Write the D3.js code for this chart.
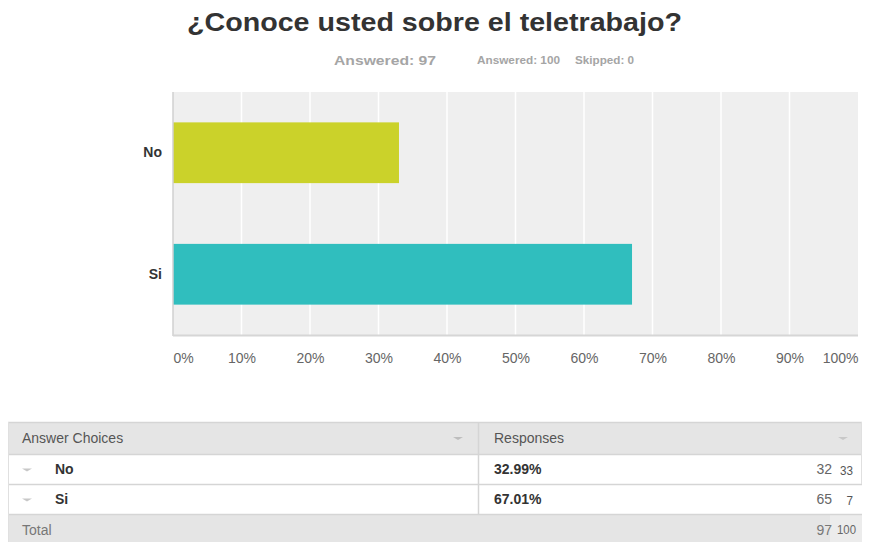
<!DOCTYPE html>
<html>
<head>
<meta charset="utf-8">
<script src="https://cdnjs.cloudflare.com/ajax/libs/d3/7.8.5/d3.min.js"></script>
<style>
  html, body { margin: 0; padding: 0; background: #fff; }
  svg { display: block; font-family: "Liberation Sans", Arial, Helvetica, sans-serif; }
</style>
</head>
<body>
<svg id="chart" width="869" height="542"></svg>
<script>
// ---- data ----
const title = "¿Conoce usted sobre el teletrabajo?";
const answeredMain = "Answered: 97";
const answeredSide = "Answered: 100";
const skippedSide = "Skipped: 0";
const categories = ["No", "Si"];
const percents = [32.99, 67.01];
const counts = [32, 65];
const sideCounts = ["33", "7"];
const totalCount = 97;
const sideTotal = "100";
const tickValues = [0, 10, 20, 30, 40, 50, 60, 70, 80, 90, 100];
const barColors = ["#cbd22a", "#30bebe"];

const svg = d3.select("#chart");

// ---- title ----
svg.append("text")
  .attr("x", 434.5).attr("y", 31)
  .attr("text-anchor", "middle")
  .attr("font-size", 25).attr("font-weight", "bold")
  .attr("fill", "#333")
  .attr("textLength", 495).attr("lengthAdjust", "spacingAndGlyphs")
  .text(title);

svg.append("text")
  .attr("x", 334).attr("y", 65)
  .attr("font-size", 13).attr("font-weight", "bold")
  .attr("fill", "#a5a5a5")
  .attr("textLength", 102).attr("lengthAdjust", "spacingAndGlyphs")
  .text(answeredMain);
svg.append("text")
  .attr("x", 477).attr("y", 64)
  .attr("font-size", 11).attr("font-weight", "bold")
  .attr("fill", "#a5a5a5")
  .attr("textLength", 83).attr("lengthAdjust", "spacingAndGlyphs")
  .text(answeredSide);
svg.append("text")
  .attr("x", 575).attr("y", 64)
  .attr("font-size", 11).attr("font-weight", "bold")
  .attr("fill", "#a5a5a5")
  .attr("textLength", 59).attr("lengthAdjust", "spacingAndGlyphs")
  .text(skippedSide);

// ---- chart ----
const plot = { left: 173, right: 858, top: 92, bottom: 335 };
const x = d3.scaleLinear().domain([0, 100]).range([plot.left, plot.right]);
const y = d3.scaleBand().domain(categories).range([plot.top, plot.bottom])
  .paddingInner(0.5).paddingOuter(0.25);

svg.append("rect")
  .attr("x", plot.left).attr("y", plot.top)
  .attr("width", plot.right - plot.left).attr("height", plot.bottom - plot.top)
  .attr("fill", "#efefef");

svg.append("g").selectAll("line")
  .data(tickValues.filter(d => d > 0 && d < 100))
  .join("line")
  .attr("x1", d => x(d)).attr("x2", d => x(d))
  .attr("y1", plot.top).attr("y2", plot.bottom)
  .attr("stroke", "#ffffff").attr("stroke-width", 1.5);

svg.append("g").selectAll("rect")
  .data(categories)
  .join("rect")
  .attr("x", x(0))
  .attr("y", d => y(d))
  .attr("width", (d, i) => x(percents[i]) - x(0))
  .attr("height", y.bandwidth())
  .attr("fill", (d, i) => barColors[i]);

// axis lines
svg.append("line")
  .attr("x1", plot.left).attr("x2", plot.left)
  .attr("y1", plot.top).attr("y2", plot.bottom + 1)
  .attr("stroke", "#d0d0d0").attr("stroke-width", 1.5);
svg.append("line")
  .attr("x1", plot.left).attr("x2", plot.right)
  .attr("y1", plot.bottom + 0.5).attr("y2", plot.bottom + 0.5)
  .attr("stroke", "#d6d6d6").attr("stroke-width", 2);

// x axis tick labels
const xAxis = d3.axisBottom(x).tickValues(tickValues).tickFormat(d => d + "%").tickSize(0).tickPadding(0);
const gx = svg.append("g").attr("transform", `translate(0,${plot.bottom + 18})`).call(xAxis);
gx.select(".domain").remove();
gx.selectAll("text")
  .attr("font-size", 14).attr("fill", "#666")
  .attr("font-family", "'Liberation Sans', Arial, sans-serif")
  .attr("text-anchor", d => d === 0 ? "start" : (d === 100 ? "end" : "middle"));

// y axis labels
const yAxis = d3.axisLeft(y).tickSize(0).tickPadding(11);
const gy = svg.append("g").attr("transform", `translate(${plot.left},0)`).call(yAxis);
gy.select(".domain").remove();
gy.selectAll("text")
  .attr("font-size", 14).attr("font-weight", "bold").attr("fill", "#333")
  .attr("font-family", "'Liberation Sans', Arial, sans-serif");

// ---- table ----
const tbl = { left: 8, mid: 478, right: 862 };
const rowsY = [422, 454, 484, 514, 542];
const tg = svg.append("g");

// header
tg.append("rect").attr("x", tbl.left).attr("y", rowsY[0])
  .attr("width", tbl.right - tbl.left).attr("height", rowsY[1] - rowsY[0]).attr("fill", "#e5e5e5");
// total row
tg.append("rect").attr("x", tbl.left).attr("y", rowsY[3])
  .attr("width", 822).attr("height", rowsY[4] - rowsY[3]).attr("fill", "#e5e5e5");
tg.append("rect").attr("x", 830).attr("y", rowsY[3])
  .attr("width", tbl.right - 830).attr("height", rowsY[4] - rowsY[3]).attr("fill", "#ececec");

// horizontal lines
tg.selectAll("line.h")
  .data([rowsY[0], rowsY[1], rowsY[2], rowsY[3]])
  .join("line").attr("class", "h")
  .attr("x1", tbl.left).attr("x2", tbl.right)
  .attr("y1", d => d + 0.5).attr("y2", d => d + 0.5)
  .attr("stroke", "#d5d5d5").attr("stroke-width", 1.5);
// vertical divider
tg.append("line").attr("x1", tbl.mid + 0.5).attr("x2", tbl.mid + 0.5)
  .attr("y1", rowsY[0]).attr("y2", rowsY[3])
  .attr("stroke", "#d5d5d5").attr("stroke-width", 1.5);
tg.append("line").attr("x1", tbl.left + 0.5).attr("x2", tbl.left + 0.5)
  .attr("y1", rowsY[0]).attr("y2", rowsY[4])
  .attr("stroke", "#e0e0e0").attr("stroke-width", 1);
tg.append("line").attr("x1", tbl.right - 0.5).attr("x2", tbl.right - 0.5)
  .attr("y1", rowsY[0]).attr("y2", rowsY[2])
  .attr("stroke", "#e0e0e0").attr("stroke-width", 1);

// triangles
function tri(cx, cy, w, color) {
  tg.append("path")
    .attr("d", `M${cx - w / 2},${cy - 1.5}L${cx + w / 2},${cy - 1.5}L${cx},${cy + 1.5}Z`)
    .attr("fill", color);
}
tri(458, 438.5, 10, "#bdbdbd");
tri(843, 438.5, 10, "#c8c8c8");

// header text
tg.append("text").attr("x", 22).attr("y", 443).attr("font-size", 14).attr("fill", "#555").text("Answer Choices");
tg.append("text").attr("x", 494).attr("y", 443).attr("font-size", 14).attr("fill", "#555").text("Responses");

// rows
const rowMid = [469, 499];
categories.forEach((c, i) => {
  tri(27, rowMid[i] + 1, 10, "#c8c8c8");
  tg.append("text").attr("x", 55).attr("y", rowMid[i] + 5).attr("font-size", 14)
    .attr("font-weight", "bold").attr("fill", "#333").text(c);
  tg.append("text").attr("x", 494).attr("y", rowMid[i] + 5).attr("font-size", 14)
    .attr("font-weight", "bold").attr("fill", "#333").text(percents[i].toFixed(2) + "%");
  tg.append("text").attr("x", 832).attr("y", rowMid[i] + 5).attr("font-size", 14)
    .attr("text-anchor", "end").attr("fill", "#666").text(counts[i]);
  tg.append("text").attr("x", 853).attr("y", rowMid[i] + 6).attr("font-size", 12)
    .attr("text-anchor", "end").attr("fill", "#555")
    .attr("textLength", sideCounts[i].length * 6.5).attr("lengthAdjust", "spacingAndGlyphs")
    .text(sideCounts[i]);
});

// total
tg.append("text").attr("x", 22).attr("y", 535).attr("font-size", 14).attr("fill", "#777").text("Total");
tg.append("text").attr("x", 832).attr("y", 535).attr("font-size", 14)
  .attr("text-anchor", "end").attr("fill", "#777").text(totalCount);
tg.append("text").attr("x", 856).attr("y", 534).attr("font-size", 12)
  .attr("text-anchor", "end").attr("fill", "#666")
  .attr("textLength", 19).attr("lengthAdjust", "spacingAndGlyphs")
  .text(sideTotal);
</script>
</body>
</html>
